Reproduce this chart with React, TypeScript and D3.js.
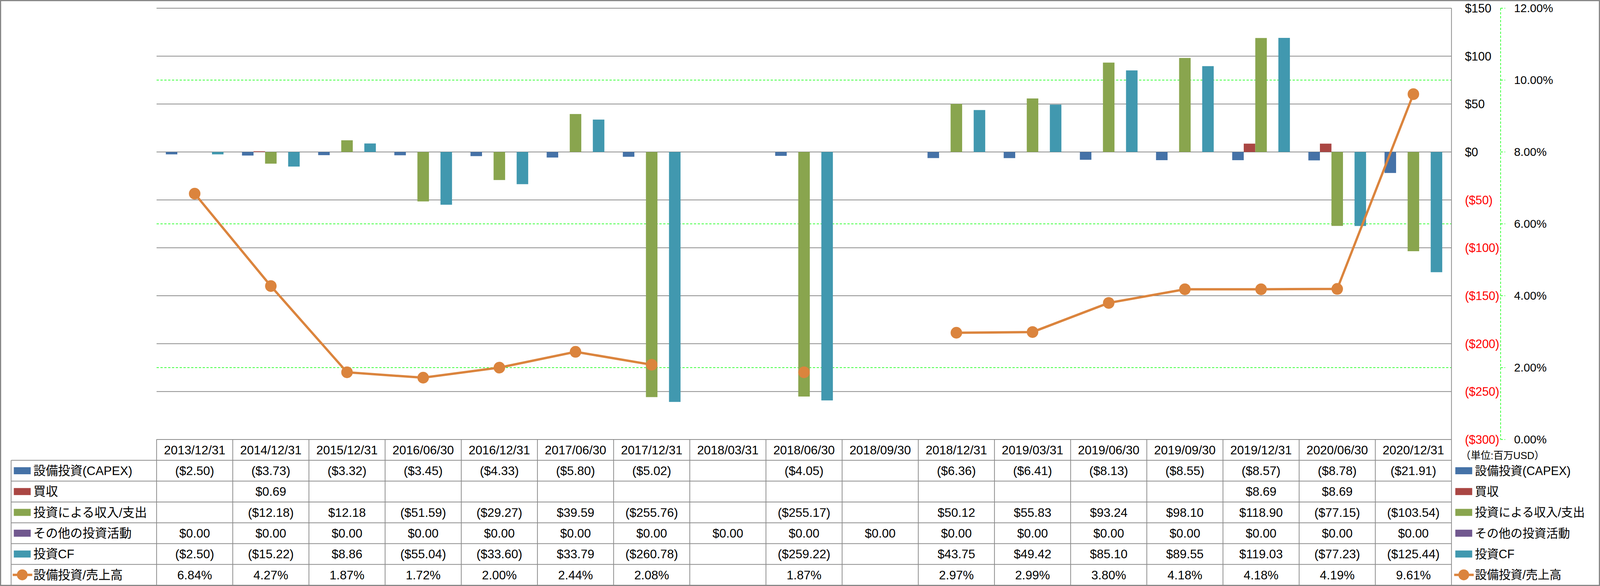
import * as React from 'react';
import * as d3 from 'd3';

const categories = [
  '2013/12/31', '2014/12/31', '2015/12/31', '2016/06/30', '2016/12/31', '2017/06/30',
  '2017/12/31', '2018/03/31', '2018/06/30', '2018/09/30', '2018/12/31', '2019/03/31',
  '2019/06/30', '2019/09/30', '2019/12/31', '2020/06/30', '2020/12/31',
];

type V = number | null;

const capex: V[] = [-2.5, -3.73, -3.32, -3.45, -4.33, -5.8, -5.02, null, -4.05, null, -6.36, -6.41, -8.13, -8.55, -8.57, -8.78, -21.91];
const acquisitions: V[] = [null, 0.69, null, null, null, null, null, null, null, null, null, null, null, null, 8.69, 8.69, null];
const investIncome: V[] = [null, -12.18, 12.18, -51.59, -29.27, 39.59, -255.76, null, -255.17, null, 50.12, 55.83, 93.24, 98.1, 118.9, -77.15, -103.54];
const otherInvest: V[] = [0, 0, 0, 0, 0, 0, 0, 0, 0, 0, 0, 0, 0, 0, 0, 0, 0];
const investCF: V[] = [-2.5, -15.22, 8.86, -55.04, -33.6, 33.79, -260.78, null, -259.22, null, 43.75, 49.42, 85.1, 89.55, 119.03, -77.23, -125.44];
const capexRatio: V[] = [6.84, 4.27, 1.87, 1.72, 2.0, 2.44, 2.08, null, 1.87, null, 2.97, 2.99, 3.8, 4.18, 4.18, 4.19, 9.61];

const barNames = ['設備投資(CAPEX)', '買収', '投資による収入/支出', 'その他の投資活動', '投資CF'];
const barColors = ['#4572A7', '#AA4643', '#89A54E', '#71588F', '#4198AF'];
const barValues = [capex, acquisitions, investIncome, otherInvest, investCF];
const lineName = '設備投資/売上高';
const lineColor = '#DB843D';

const valueTicks = [150, 100, 50, 0, -50, -100, -150, -200, -250, -300];
const ratioTicks = [12, 10, 8, 6, 4, 2, 0];
const unitLabel = '（単位:百万USD）';

const W = 4169;
const H = 1500;
const left = 408;
const right = 3782;
const top = 21;
const bottom = 1125;
const rowH = 53.3;
const font = '"Liberation Sans", "Noto Sans CJK JP", sans-serif';

const money = (v: V) => (v == null ? '' : v < 0 ? `($${Math.abs(v).toFixed(2)})` : `$${v.toFixed(2)}`);
const pct = (v: V) => (v == null ? '' : `${v.toFixed(2)}%`);

const App: React.FC = () => {
  const x0 = d3.scaleBand<string>().domain(categories).range([left, right]);
  const x1 = d3.scaleBand<string>().domain(barNames).range([0, x0.bandwidth()]).paddingInner(0).paddingOuter(0.8);
  const y = d3.scaleLinear().domain([-300, 150]).range([bottom, top]);
  const y2 = d3.scaleLinear().domain([0, 12]).range([bottom, top]);
  const cx = (c: string) => (x0(c) as number) + x0.bandwidth() / 2;

  const line = d3
    .line<V>()
    .defined((d) => d != null)
    .x((_, i) => cx(categories[i]))
    .y((d) => y2(d as number));

  const rows = [
    ...barNames.map((n, i) => ({ name: n, color: barColors[i], values: barValues[i].map(money), isLine: false })),
    { name: lineName, color: lineColor, values: capexRatio.map(pct), isLine: true },
  ];
  const headTop = bottom;
  const bodyTop = headTop + rowH;
  const tableBottom = bodyTop + rowH * rows.length;

  const legendKey = (r: (typeof rows)[number], kx: number, ky: number) =>
    r.isLine ? (
      <g>
        <line x1={kx - 3} x2={kx + 48} y1={ky} y2={ky} stroke={r.color} strokeWidth={6} />
        <circle cx={kx + 22} cy={ky} r={14} fill={r.color} />
      </g>
    ) : (
      <rect x={kx} y={ky - 9} width={44} height={18} fill={r.color} />
    );

  return (
    <svg
      viewBox={`0 0 ${W} ${H}`}
      preserveAspectRatio="none"
      style={{ position: 'fixed', left: 0, top: 0, width: '100vw', height: '100vh', display: 'block', background: '#fff' }}
      fontFamily={font}
    >
      <rect x={0} y={0} width={W} height={H} fill="#fff" />
      {/* secondary gridlines */}
      {ratioTicks.map((t) => (
        <line key={'g2' + t} x1={left} x2={right} y1={y2(t)} y2={y2(t)} stroke="#00FF00" strokeWidth={1.5} strokeDasharray="6 4" />
      ))}
      {/* primary gridlines */}
      {valueTicks.map((t) => (
        <line key={'g' + t} x1={left} x2={right} y1={y(t)} y2={y(t)} stroke="#8c8c8c" strokeWidth={2} />
      ))}
      {/* bars */}
      {barValues.map((vals, s) =>
        vals.map((v, i) =>
          v == null || v === 0 ? null : (
            <rect
              key={`b${s}-${i}`}
              x={(x0(categories[i]) as number) + (x1(barNames[s]) as number)}
              y={y(Math.max(0, v))}
              width={x1.bandwidth()}
              height={Math.abs(y(v) - y(0))}
              fill={barColors[s]}
            />
          )
        )
      )}
      {/* ratio line */}
      <path d={line(capexRatio) || ''} fill="none" stroke={lineColor} strokeWidth={6} />
      {capexRatio.map((v, i) =>
        v == null ? null : <circle key={'m' + i} cx={cx(categories[i])} cy={y2(v)} r={15} fill={lineColor} />
      )}
      {/* primary axis on the right */}
      <line x1={right} x2={right} y1={top} y2={tableBottom} stroke="#8c8c8c" strokeWidth={2} />
      {valueTicks.map((t) => (
        <text key={'t' + t} x={3817} y={y(t)} dy="0.35em" fontSize={31} fill={t < 0 ? '#FF0000' : '#000'}>
          {t < 0 ? `($${-t})` : `$${t}`}
        </text>
      ))}
      {/* secondary axis */}
      <line x1={3910} x2={3910} y1={top} y2={bottom} stroke="#00FF00" strokeWidth={1.5} strokeDasharray="6 4" />
      {ratioTicks.map((t) => (
        <g key={'r' + t}>
          <line x1={3910} x2={3922} y1={y2(t)} y2={y2(t)} stroke="#00FF00" strokeWidth={1.5} strokeDasharray="6 4" />
          <text x={3945} y={y2(t)} dy="0.35em" fontSize={30} fill="#000">
            {`${t.toFixed(2)}%`}
          </text>
        </g>
      ))}
      <text x={3806} y={1166} dy="0.35em" fontSize={26} fill="#000">
        {unitLabel}
      </text>
      {/* data table */}
      <line x1={left} x2={right} y1={headTop} y2={headTop} stroke="#8c8c8c" strokeWidth={2} />
      {rows.map((_, i) => (
        <line key={'h' + i} x1={29} x2={right} y1={bodyTop + i * rowH} y2={bodyTop + i * rowH} stroke="#8c8c8c" strokeWidth={2} />
      ))}
      <line x1={29} x2={right} y1={tableBottom} y2={tableBottom} stroke="#8c8c8c" strokeWidth={2} />
      <line x1={29} x2={29} y1={bodyTop} y2={tableBottom} stroke="#8c8c8c" strokeWidth={2} />
      {categories.map((c) => (
        <line key={'v' + c} x1={x0(c) as number} x2={x0(c) as number} y1={headTop} y2={tableBottom} stroke="#8c8c8c" strokeWidth={2} />
      ))}
      {categories.map((c) => (
        <text key={'c' + c} x={cx(c)} y={headTop + rowH / 2} dy="0.35em" textAnchor="middle" fontSize={32} fill="#000">
          {c}
        </text>
      ))}
      {rows.map((r, ri) => {
        const ry = bodyTop + ri * rowH + rowH / 2;
        return (
          <g key={'row' + ri}>
            {legendKey(r, 36, ry)}
            <text x={87} y={ry} dy="0.35em" fontSize={32} fill="#000">
              {r.name}
            </text>
            {r.values.map((t, i) => (
              <text key={i} x={cx(categories[i])} y={ry} dy="0.35em" textAnchor="middle" fontSize={32} fill="#000">
                {t}
              </text>
            ))}
            {legendKey(r, 3792, ry)}
            <text x={3843} y={ry} dy="0.35em" fontSize={31} fill="#000">
              {r.name}
            </text>
          </g>
        );
      })}
      {/* chart border */}
      <rect x={1.5} y={1.5} width={W - 3} height={H - 3} fill="none" stroke="#888" strokeWidth={3} />
    </svg>
  );
};

export default App;
